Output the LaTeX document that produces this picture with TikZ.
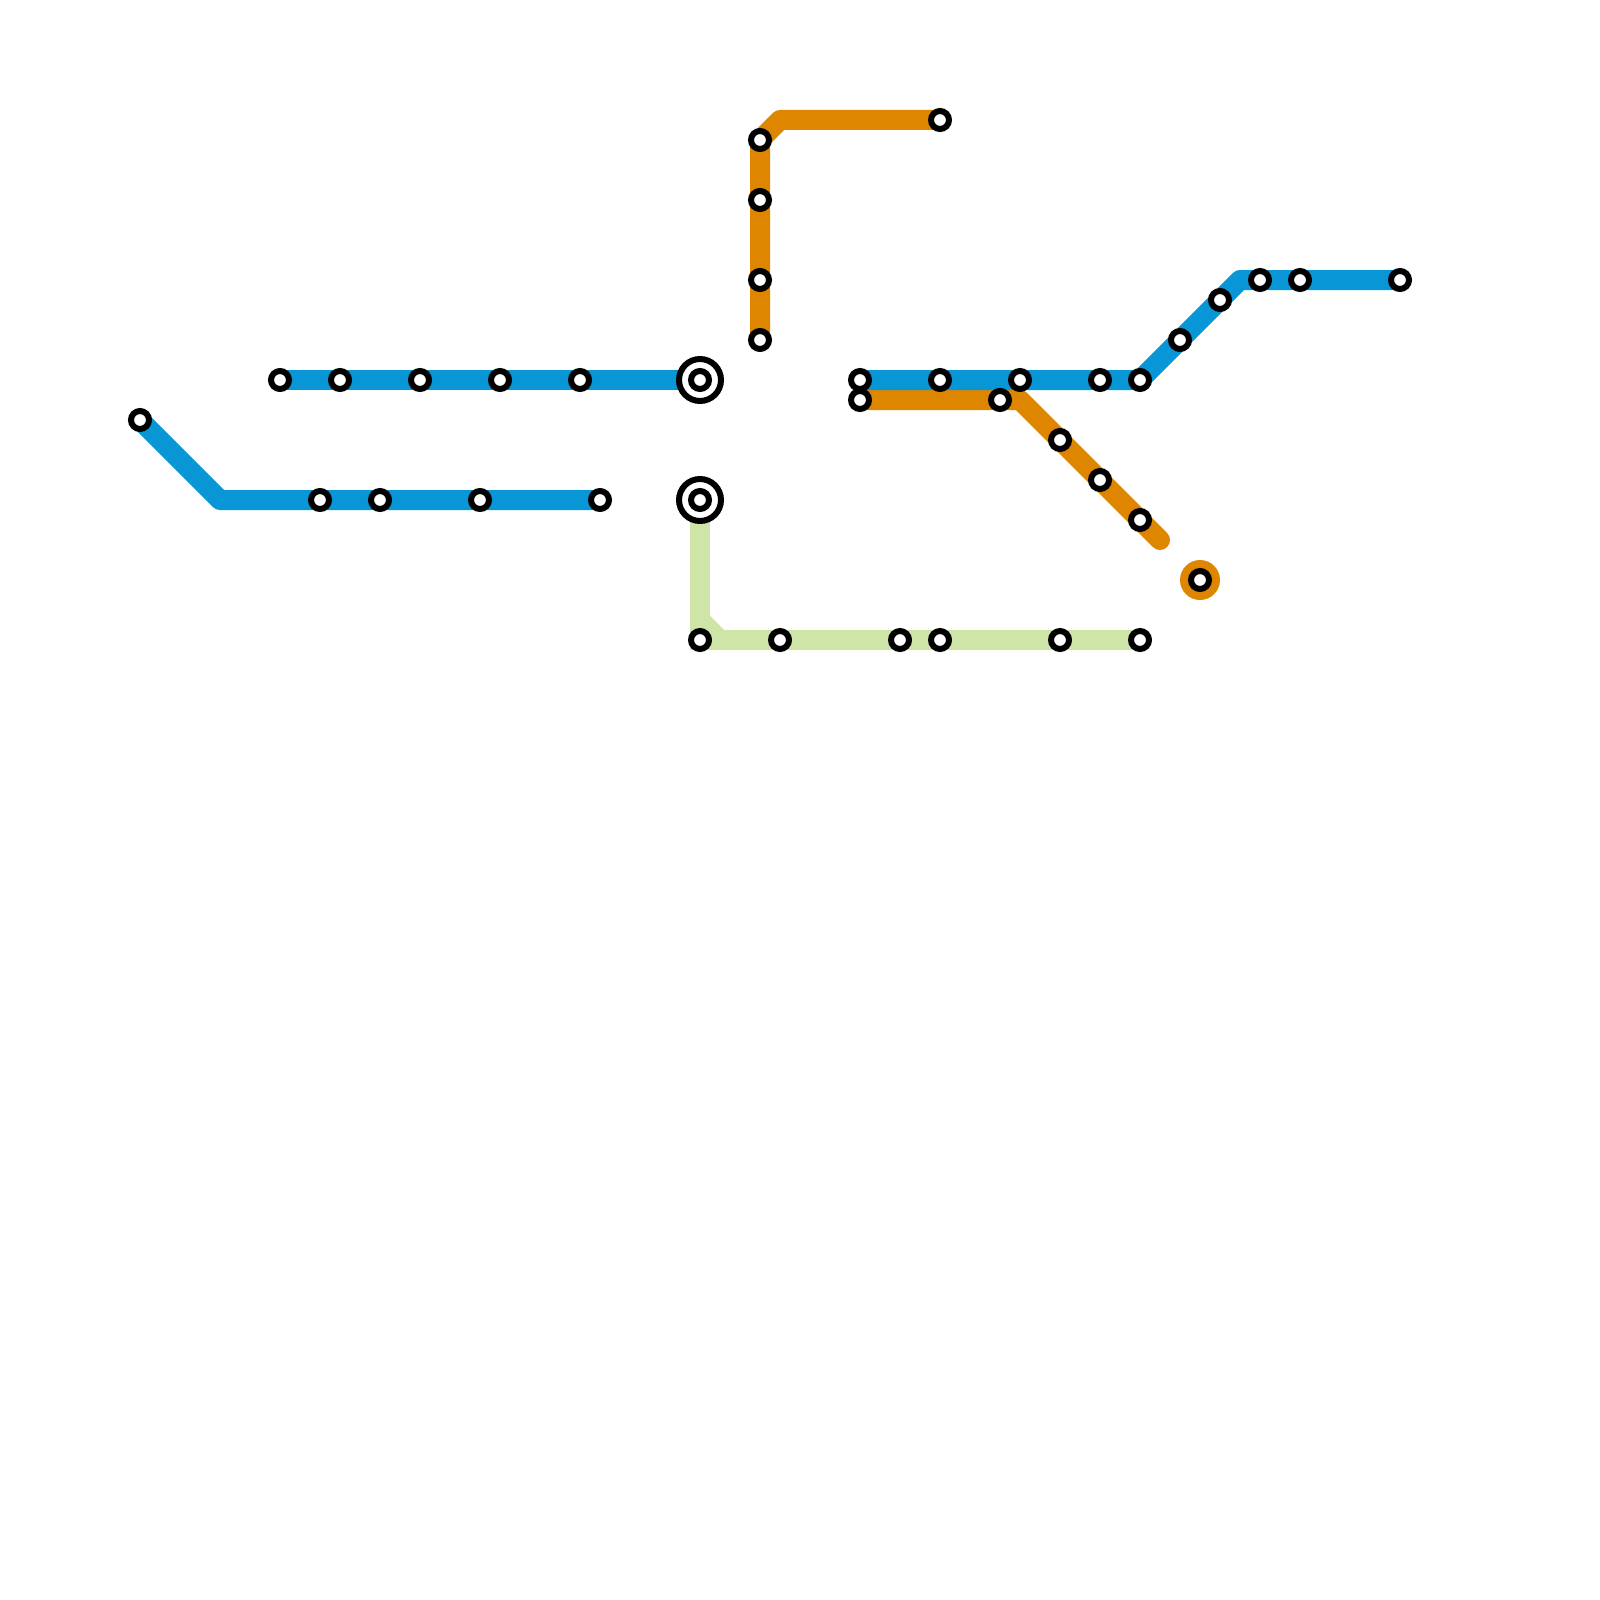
\documentclass[tikz,border=0pt]{standalone}
\usetikzlibrary{backgrounds}
\definecolor{lineblue}{HTML}{0896D7}
\definecolor{lineorange}{HTML}{DF8600}
\definecolor{linegreen}{HTML}{CFE4A7}
\tikzset{
  x=1pt,y=-1pt,
  stn/.style={circle,draw=black,fill=white,line width=6pt,inner sep=0pt,minimum size=18pt},
  hubring/.style={circle,draw=black,fill=white,line width=6pt,inner sep=0pt,minimum size=42pt},
  metro/.style={line width=20pt,line join=round,line cap=round},
  bluel/.style={metro,draw=lineblue},
  orangel/.style={metro,draw=lineorange},
  greenl/.style={line width=20pt,line join=miter,line cap=butt,draw=linegreen}
}
\begin{document}
\begin{tikzpicture}
\useasboundingbox (0,0) rectangle (1600,1600);
% bends
\coordinate (b1) at (220,500);
\coordinate (b2) at (1140,380);
\coordinate (b3) at (1240,280);
\coordinate (o1) at (780,120);
\coordinate (o2) at (1020,400);
\coordinate (oe) at (1160,540);
\coordinate (g1) at (700,620);
\coordinate (g2) at (720,640);
% hubs
\node[hubring] (h1) at (700,380) {};
\node[hubring] (h2) at (700,500) {};
\node[circle,fill=lineorange,inner sep=0pt,minimum size=40pt] (odisc) at (1200,580) {};
% stations: blue lower-left
\node[stn] (a1) at (140,420) {};
\node[stn] (a2) at (320,500) {};
\node[stn] (a3) at (380,500) {};
\node[stn] (a4) at (480,500) {};
\node[stn] (a5) at (600,500) {};
% blue upper-left
\node[stn] (c1) at (280,380) {};
\node[stn] (c2) at (340,380) {};
\node[stn] (c3) at (420,380) {};
\node[stn] (c4) at (500,380) {};
\node[stn] (c5) at (580,380) {};
\node[stn] (c6) at (700,380) {};
% blue right
\node[stn] (d1) at (860,380) {};
\node[stn] (d2) at (940,380) {};
\node[stn] (d3) at (1020,380) {};
\node[stn] (d4) at (1100,380) {};
\node[stn] (d5) at (1140,380) {};
\node[stn] (d6) at (1180,340) {};
\node[stn] (d7) at (1220,300) {};
\node[stn] (d8) at (1260,280) {};
\node[stn] (d9) at (1300,280) {};
\node[stn] (d10) at (1400,280) {};
% orange top
\node[stn] (e1) at (760,340) {};
\node[stn] (e2) at (760,280) {};
\node[stn] (e3) at (760,200) {};
\node[stn] (e4) at (760,140) {};
\node[stn] (e5) at (940,120) {};
% orange right
\node[stn] (f1) at (860,400) {};
\node[stn] (f2) at (1000,400) {};
\node[stn] (f3) at (1060,440) {};
\node[stn] (f4) at (1100,480) {};
\node[stn] (f5) at (1140,520) {};
\node[stn] (f6) at (1200,580) {};
% green
\node[stn] (k0) at (700,500) {};
\node[stn] (k1) at (700,640) {};
\node[stn] (k2) at (780,640) {};
\node[stn] (k3) at (900,640) {};
\node[stn] (k4) at (940,640) {};
\node[stn] (k5) at (1060,640) {};
\node[stn] (k6) at (1140,640) {};
\begin{pgfonlayer}{background}
\path[greenl] (k0.center) -- (k1.center) -- (k6.center);
\path[greenl,line cap=butt] (g1) -- (g2);
\path[orangel] (e1.center) -- (e4.center) -- (o1) -- (e5.center);
\path[orangel] (f1.center) -- (o2) -- (oe);
\path[bluel] (a1.center) -- (b1) -- (a5.center);
\path[bluel] (c1.center) -- (c6.center);
\path[bluel] (d1.center) -- (b2) -- (b3) -- (d10.center);
\end{pgfonlayer}
\end{tikzpicture}
\end{document}
